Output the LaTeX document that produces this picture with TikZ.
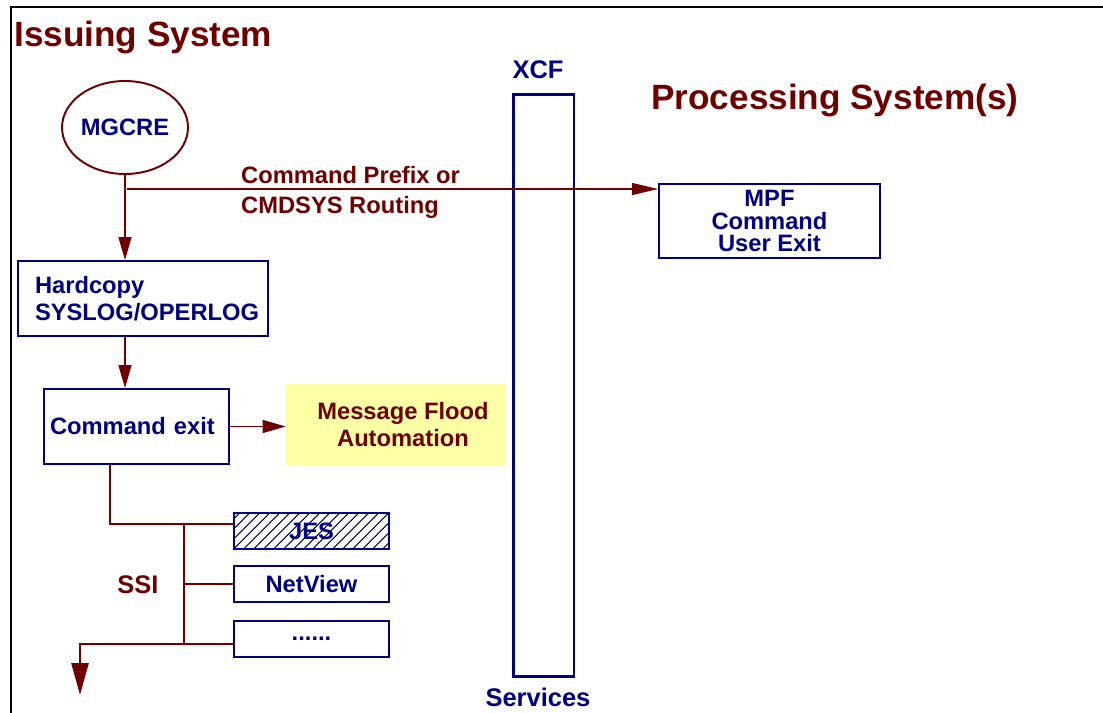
\documentclass[tikz,border=0pt]{standalone}
\usepackage{fontspec}
\setmainfont{Liberation Sans}
\usepackage{tikz}
\usetikzlibrary{arrows.meta, positioning, shapes.geometric, patterns.meta}
\definecolor{ibmRed}{HTML}{6E0000}
\definecolor{ibmNavy}{HTML}{000080}
\definecolor{ibmYellow}{HTML}{FFFFA6}

\begin{document}
\begin{tikzpicture}[
  x=0.02cm, y=-0.02cm,
  title/.style={font=\fontsize{20}{24}\selectfont\bfseries, text=ibmRed, inner sep=0, anchor=base west},
  box/.style={draw=ibmNavy, line width=1.1pt, text=ibmNavy, font=\fontsize{13.5}{15.5}\selectfont\bfseries, inner sep=0},
  slot/.style={box, minimum width=3.1cm, minimum height=0.72cm},
  redtext/.style={text=ibmRed, font=\fontsize{13.5}{17.5}\selectfont\bfseries},
  navytext/.style={text=ibmNavy, font=\fontsize{14.5}{17}\selectfont\bfseries},
  flow/.style={draw=ibmRed, line width=0.8pt, -{Triangle[length=0.46cm, width=0.26cm]}},
  bus/.style={draw=ibmRed, line width=1.5pt},
]
  \useasboundingbox (0,0) rectangle (1103,713);
  % frame
  \draw[line width=0.8pt] (1103,7) -- (11,7) -- (11,713);

  % titles
  \node[title] (issuing) at (14,47) {Issuing System};
  \node[title] (processing) at (651,110) {Processing System(s)};

  % issuing side
  \node[ellipse, draw=ibmRed, line width=1.1pt, text=ibmNavy, font=\fontsize{13.5}{15.5}\selectfont\bfseries,
        minimum width=2.52cm, minimum height=1.86cm, inner sep=0] (mgcre) at (125,127.5) {MGCRE};
  \node[box, minimum width=5cm, minimum height=1.5cm, inner xsep=0.34cm, text width=4.32cm, align=left]
        (hard) at (143,298.5) {Hardcopy\\SYSLOG/OPERLOG};
  \node[box, minimum width=3.7cm, minimum height=1.5cm, inner xsep=0.12cm, text width=3.46cm, align=left]
        (cmdexit) at (136.5,426.5) {Command exit};
  \node[fill=ibmYellow, redtext, font=\fontsize{13.5}{15.5}\selectfont\bfseries, align=center,
        minimum width=4.38cm, minimum height=1.62cm, inner sep=0] (flood) at (395.5,424.5) {\hspace*{0.3cm}Message Flood\\\hspace*{0.3cm}Automation};

  % SSI subsystems
  \node[slot, pattern={Lines[angle=45, distance=4pt, line width=0.6pt]}, pattern color=ibmNavy] (jes) at (311.5,531) {JES};
  \node[slot] (netview) at (311.5,584) {NetView};
  \node[slot] (dots) at (311.5,639) {......};
  \node[text=ibmRed, font=\fontsize{14.5}{17}\selectfont\bfseries] (ssi) at (138,585) {SSI};

  % XCF
  \node[draw=ibmNavy, line width=1.7pt, minimum width=1.22cm, minimum height=11.66cm, inner sep=0] (xcf) at (543.5,385.5) {};
  \node[navytext] (xcflabel) at (538,70) {XCF};
  \node[navytext] (services) at (538,697) {Services};

  % processing side
  \node[box, minimum width=4.42cm, minimum height=1.48cm, align=center, font=\fontsize{13.5}{12.8}\selectfont\bfseries]
        (mpf) at (769.5,221) {MPF\\Command\\User Exit};

  % routing arrow
  \coordinate (route) at (127,189);
  \coordinate (bus) at (184,0);
  \coordinate (out) at (80,695);
  \draw[flow, line width=0.6pt, -{Triangle[length=0.52cm, width=0.24cm]}] (route) -- (route -| mpf.west);
  \node[redtext, align=left, anchor=west] (routing) at (235,192.5) {Command Prefix or\\CMDSYS Routing};

  \draw[flow] (mgcre.south) -- (mgcre.south |- hard.north);
  \draw[flow] (mgcre.south |- hard.south) -- (mgcre.south |- cmdexit.north);
  \draw[flow] (cmdexit.east) -- (cmdexit.east -| flood.west);

  \draw[bus] ([xshift=-0.53cm]cmdexit.south) |- ([yshift=0.14cm]jes.west);
  \draw[bus] ([yshift=0.14cm]bus |- jes.west) -- ([yshift=-0.1cm]bus |- dots.west);
  \draw[bus] (bus |- netview.west) -- (netview.west);
  \draw[bus, -{Triangle[length=0.64cm, width=0.34cm]}] ([yshift=-0.1cm]dots.west) -| (out);
\end{tikzpicture}
\end{document}
